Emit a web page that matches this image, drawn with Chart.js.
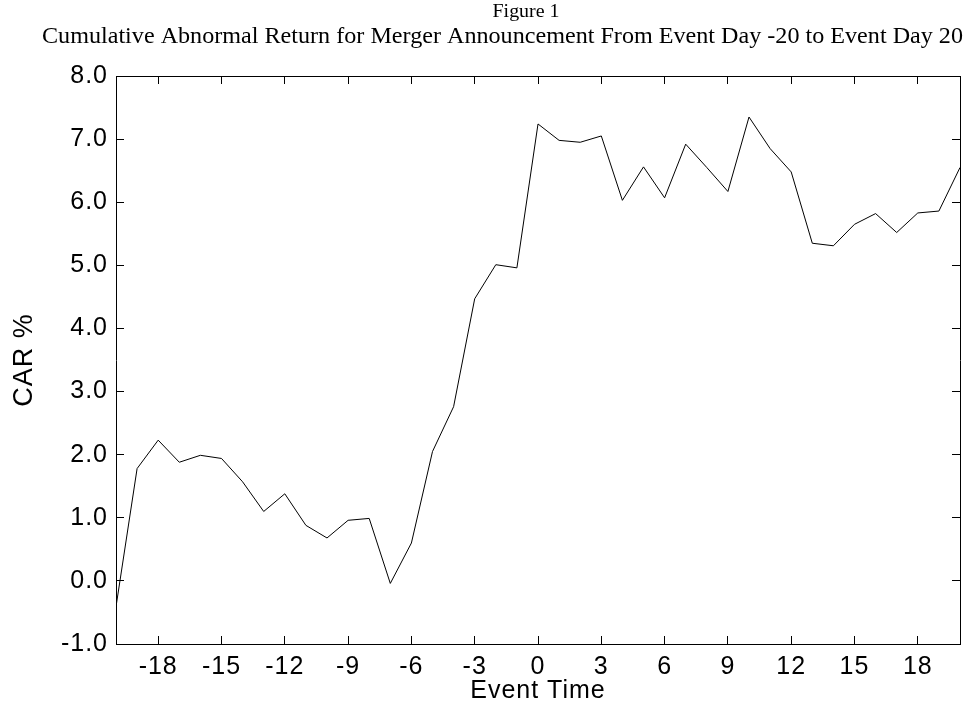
<!DOCTYPE html>
<html>
<head>
<meta charset="utf-8">
<script src="https://cdn.jsdelivr.net/npm/chart.js@4"></script>
<style>
  html, body { margin: 0; padding: 0; background: #fff; }
  canvas { display: block; }
</style>
</head>
<body>
<canvas id="myChart" width="967" height="710"></canvas>
<script>
// event days -20 .. 20
let dias = [-20, -19, -18, -17, -16, -15, -14, -13, -12, -11, -10, -9, -8, -7, -6, -5, -4, -3, -2, -1,
            0, 1, 2, 3, 4, 5, 6, 7, 8, 9, 10, 11, 12, 13, 14, 15, 16, 17, 18, 19, 20];
// CAR %
let car = [-0.41, 1.78, 2.23, 1.88, 1.99, 1.94, 1.57, 1.10, 1.38, 0.88, 0.68, 0.96, 0.99, -0.04, 0.60, 2.05, 2.76, 4.47, 5.01, 4.96,
           7.24, 6.98, 6.95, 7.05, 6.03, 6.56, 6.07, 6.92, 6.55, 6.17, 7.35, 6.85, 6.48, 5.35, 5.31, 5.65, 5.82, 5.52, 5.83, 5.86, 6.55];
let xTicks = [-18, -15, -12, -9, -6, -3, 0, 3, 6, 9, 12, 15, 18];
let titulo = "Figure 1";
let subtitulo = "Cumulative Abnormal Return for Merger Announcement From Event Day -20 to Event Day 20";

const fonteEixo = { family: '"Liberation Sans", Arial, sans-serif', size: 25 };
const fonteCar = { family: '"Liberation Sans", Arial, sans-serif', size: 27 };

// wider letters, like the original
const espacamento = {
    id: 'espacamento',
    beforeUpdate(chart) { chart.ctx.letterSpacing = '1px'; },
    beforeDraw(chart) { chart.ctx.letterSpacing = '1px'; }
};

const titulos = {
    id: 'titulos',
    afterDraw(chart) {
        const ctx = chart.ctx;
        ctx.save();
        ctx.letterSpacing = '0px';
        ctx.fillStyle = '#000';
        ctx.textAlign = 'center';
        ctx.textBaseline = 'middle';
        ctx.font = '23px "Liberation Serif", "Times New Roman", serif';
        const w = ctx.measureText(subtitulo).width;
        const esc = 921 / w;
        ctx.save();
        ctx.translate(502.5, 37);
        ctx.scale(esc, 1);
        ctx.fillText(subtitulo, 0, 0);
        ctx.restore();
        ctx.font = '19px "Liberation Serif", "Times New Roman", serif';
        ctx.save();
        ctx.translate(526, 12);
        ctx.scale(esc, 1);
        ctx.fillText(titulo, 0, 0);
        ctx.restore();
        ctx.restore();
    }
};

function ticksX(scale) {
    scale.ticks = xTicks.map(v => ({ value: v }));
}

const grade = { drawOnChartArea: false, drawTicks: true, tickLength: -8, color: '#000', lineWidth: 1 };
const borda = { display: true, color: '#000', width: 1 };

const ctx = document.getElementById('myChart').getContext('2d');
const myChart = new Chart(ctx, {
    type: 'line',
    data: {
        datasets: [{
            data: dias.map((d, i) => ({ x: d, y: car[i] })),
            borderColor: '#000',
            borderWidth: 1,
            pointRadius: 0,
            tension: 0,
            fill: false
        }]
    },
    options: {
        responsive: false,
        animation: false,
        devicePixelRatio: 1,
        layout: { padding: 0 },
        plugins: {
            legend: { display: false },
            tooltip: { enabled: false }
        },
        scales: {
            x: {
                type: 'linear',
                position: 'bottom',
                min: -20,
                max: 20,
                afterBuildTicks: ticksX,
                afterFit(scale) { scale.height = 66; },
                grid: grade,
                border: borda,
                ticks: { font: fonteEixo, color: '#000', padding: 16, maxRotation: 0, autoSkip: false },
                title: { display: true, text: 'Event Time', font: fonteEixo, color: '#000', padding: { top: 0, bottom: 4 } }
            },
            x2: {
                type: 'linear',
                position: 'top',
                min: -20,
                max: 20,
                afterBuildTicks: ticksX,
                afterFit(scale) { scale.height = 76; },
                grid: grade,
                border: borda,
                ticks: { display: false }
            },
            y: {
                type: 'linear',
                position: 'left',
                min: -1,
                max: 8,
                afterFit(scale) { scale.width = 116; },
                grid: grade,
                border: borda,
                ticks: { stepSize: 1, font: fonteEixo, color: '#000', padding: 16, callback: v => v.toFixed(1) },
                title: { display: true, text: 'CAR %', font: fonteCar, color: '#000', padding: { top: 8, bottom: 0 } }
            },
            y2: {
                type: 'linear',
                position: 'right',
                min: -1,
                max: 8,
                afterFit(scale) { scale.width = 7; },
                grid: grade,
                border: borda,
                ticks: { display: false, stepSize: 1 }
            }
        }
    },
    plugins: [espacamento, titulos]
});
</script>
</body>
</html>
